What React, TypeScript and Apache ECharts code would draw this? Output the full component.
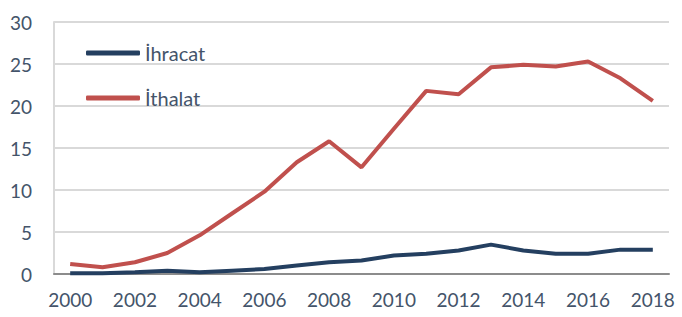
import React, { useEffect, useRef } from "react";
import * as echarts from "echarts";

const years = ["2000","2001","2002","2003","2004","2005","2006","2007","2008","2009","2010","2011","2012","2013","2014","2015","2016","2017","2018"];
const ihracat = [0.1,0.1,0.2,0.4,0.2,0.4,0.6,1.0,1.4,1.6,2.2,2.4,2.8,3.5,2.8,2.4,2.4,2.9,2.9];
const ithalat = [1.2,0.8,1.4,2.5,4.6,7.2,9.8,13.3,15.8,12.7,17.3,21.8,21.4,24.6,24.9,24.7,25.3,23.3,20.6];
const yTicks = [0, 5, 10, 15, 20, 25, 30];

const textColor = "#44546A";
const font = "Lato, 'Open Sans', sans-serif";

export default function App() {
  const ref = useRef<HTMLDivElement>(null);
  useEffect(() => {
    const chart = echarts.init(ref.current!, null, { renderer: "svg" });
    chart.setOption({
      animation: false,
      grid: { left: 54, right: 13, top: 22, bottom: 43 },
      legend: {
        orient: "vertical",
        left: 81,
        top: 38,
        itemGap: 25,
        icon: "roundRect",
        itemWidth: 54,
        itemHeight: 5,
        textStyle: { color: textColor, fontSize: 20, fontFamily: font },
        data: ["İhracat", "İthalat"],
      },
      xAxis: {
        type: "category",
        data: years,
        boundaryGap: true,
        axisLine: { lineStyle: { color: "#8C8C8C", width: 2 } },
        axisTick: { show: false },
        axisLabel: { interval: 1, color: textColor, fontSize: 19, fontFamily: font, margin: 16 },
      },
      yAxis: {
        type: "value",
        min: yTicks[0],
        max: yTicks[yTicks.length - 1],
        interval: 5,
        axisLine: { show: true, lineStyle: { color: "#D9D9D9", width: 2 } },
        axisTick: { show: false },
        splitLine: { lineStyle: { color: "#D9D9D9", width: 2 } },
        axisLabel: { color: textColor, fontSize: 19, fontFamily: font, margin: 22 },
      },
      series: [
        {
          name: "İhracat",
          type: "line",
          data: ihracat,
          showSymbol: false,
          symbol: "none",
          lineStyle: { color: "#243F60", width: 4 },
          itemStyle: { color: "#243F60" },
        },
        {
          name: "İthalat",
          type: "line",
          data: ithalat,
          showSymbol: false,
          symbol: "none",
          lineStyle: { color: "#C0504D", width: 4 },
          itemStyle: { color: "#C0504D" },
        },
      ],
    });
    return () => chart.dispose();
  }, []);
  return <div ref={ref} style={{ width: 682, height: 317, position: "absolute", left: 0, top: 0 }} />;
}
